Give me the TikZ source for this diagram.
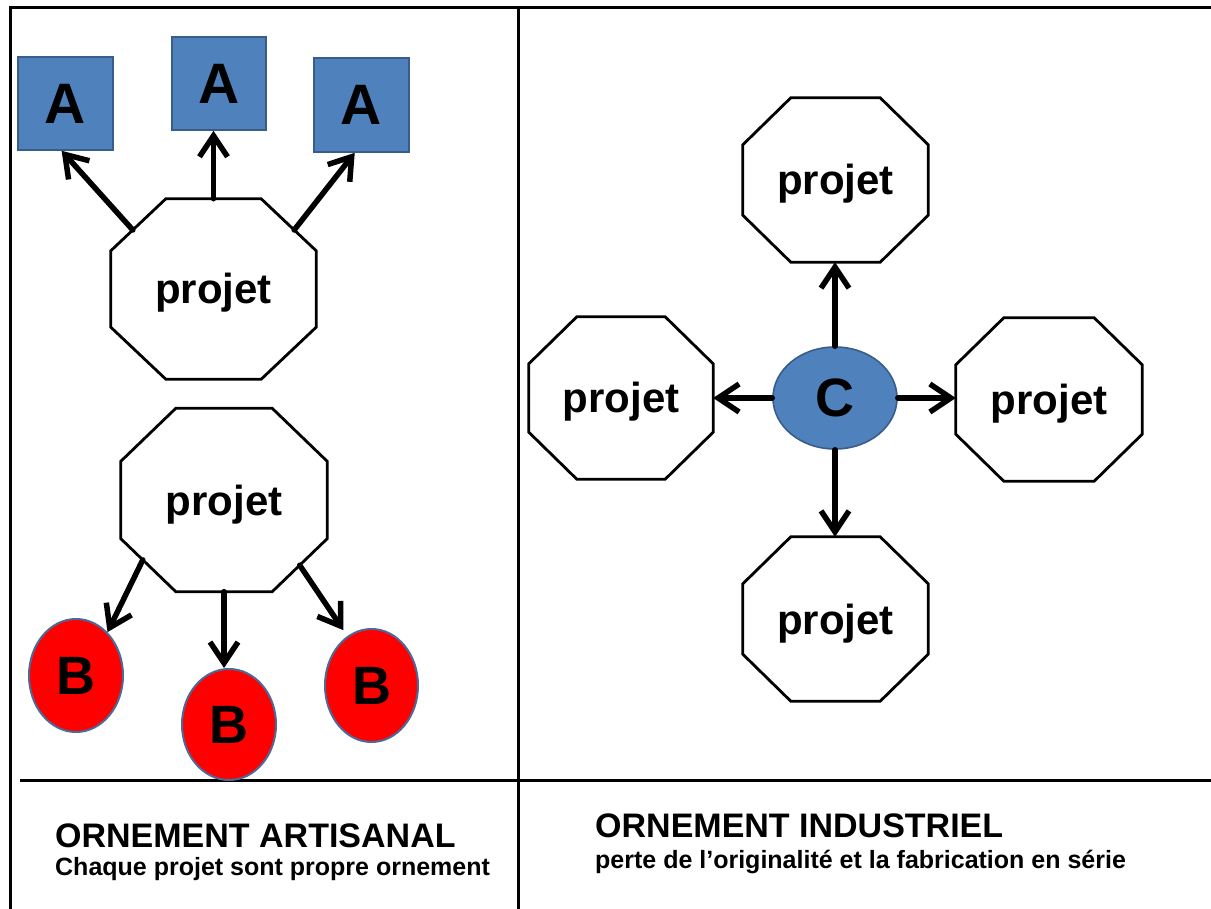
\documentclass[tikz,border=0pt]{standalone}
\usepackage{fontspec}
\setmainfont{Liberation Sans}
\usetikzlibrary{calc,arrows.meta,shapes.geometric}
\definecolor{boxblue}{HTML}{4F81BD}
\definecolor{boxedge}{HTML}{385D8A}
\definecolor{ballred}{HTML}{FF0000}
\definecolor{balledge}{HTML}{4A6A9A}
\tikzset{
  framestroke/.style={line width=3pt, black},
  octn/.style={rectangle, draw=none, inner sep=0pt, text height=40pt, text depth=10pt,
    font=\fontsize{42pt}{48pt}\selectfont\bfseries},
  octline/.style={line width=2.8pt, black, line join=miter},
  abox/.style={rectangle, fill=boxblue, draw=boxedge, line width=1.6pt, inner sep=0pt,
    font=\fontsize{57pt}{62pt}\selectfont\bfseries},
  bball/.style={ellipse, fill=ballred, draw=balledge, line width=2pt, inner sep=0pt,
    font=\fontsize{54pt}{60pt}\selectfont\bfseries},
  cball/.style={ellipse, fill=boxblue, draw=boxedge, line width=1.6pt, inner sep=0pt,
    font=\fontsize{54pt}{60pt}\selectfont\bfseries},
  arr/.style={line width=5.5pt, line cap=round, -{Straight Barb[length=21pt,width=28pt]}},
  titletxt/.style={anchor=base west, inner sep=0pt, font=\fontsize{#1}{#1}\selectfont\bfseries},
}
\newcommand\octagonnode[7]{%
  \node[octn, minimum width=#4pt, minimum height=#5pt] (#1) at (#2,#3) {projet};
  \coordinate (#1-1) at ($(#1.north west)+(#6,0)$);
  \coordinate (#1-2) at ($(#1.north east)+(-#6,0)$);
  \coordinate (#1-3) at ($(#1.north east)+(0,#7)$);
  \coordinate (#1-4) at ($(#1.south east)+(0,-#7)$);
  \coordinate (#1-5) at ($(#1.south east)+(-#6,0)$);
  \coordinate (#1-6) at ($(#1.south west)+(#6,0)$);
  \coordinate (#1-7) at ($(#1.south west)+(0,-#7)$);
  \coordinate (#1-8) at ($(#1.north west)+(0,#7)$);
  \draw[octline] (#1-1) -- (#1-2) -- (#1-3) -- (#1-4) -- (#1-5) -- (#1-6) -- (#1-7) -- (#1-8) -- cycle;
}
\begin{document}
\begin{tikzpicture}[x=1pt,y=-1pt]
\useasboundingbox (0,0) rectangle (1211,909);
\fill[white] (0,0) rectangle (1211,909);
% frame
\draw[framestroke] (10,909) -- (10,8) -- (1211,8);
\draw[framestroke] (518,8) -- (518,909);
\draw[framestroke] (20,780) -- (1211,780);

% left panel: artisanal
\octagonnode{o1}{213.5}{289}{205}{180}{55}{52}
\octagonnode{o2}{224}{500}{206}{183}{55}{53}
\node[abox, minimum width=95pt, minimum height=93pt] (a1) at (65.5,103.5) {A};
\node[abox, minimum width=94pt, minimum height=93pt] (a2) at (219,83.5) {A};
\node[abox, minimum width=95pt, minimum height=94pt] (a3) at (361.5,105) {A};
\node[bball, minimum width=94pt, minimum height=113pt] (b1) at (76,675.5) {B};
\node[bball, minimum width=94pt, minimum height=111pt] (b2) at (229,724.5) {B};
\node[bball, minimum width=93pt, minimum height=113pt] (b3) at (371.5,685.5) {B};

\draw[arr] ($(o1-8)!0.4!(o1-1)$) -- ($(a1.south west)!0.46!(a1.south east)$);
\draw[arr] (o1.north) -- (o1.north |- a2.south);
\draw[arr] ($(o1-2)!0.6!(o1-3)$) -- ($(a3.south west)!0.43!(a3.south east)$);
\draw[arr] ($(o2-7)!0.4!(o2-6)$) -- (b1.54.5);
\draw[arr] (o2.south) -- (o2.south |- b2.north);
\draw[arr, shorten >=7pt] ($(o2-5)!0.5!(o2-4)$) -- (b3.116);

% right panel: industriel
\octagonnode{p1}{835.5}{180}{185}{164}{48}{47}
\octagonnode{p2}{621}{398}{184}{162}{48}{47}
\octagonnode{p3}{1049}{399.5}{186}{163}{48}{47}
\octagonnode{p4}{835.5}{619}{185}{164}{48}{47}
\node[cball, minimum width=124pt, minimum height=102pt] (c) at (835,398) {C};
\draw[arr] (c.north) -- (c.north |- p1.south);
\draw[arr] (c.west) -- (c.west -| p2.east);
\draw[arr] (c.east) -- (c.east -| p3.west);
\draw[arr] (c.south) -- (c.south |- p4.north);

% captions
\node[titletxt=34pt] (t1) at (55,847) {ORNEMENT ARTISANAL};
\node[titletxt=25pt] (s1) at (55,875) {Chaque projet sont propre ornement};
\node[titletxt=34pt] (t2) at (595,837.5) {ORNEMENT INDUSTRIEL};
\node[titletxt=25pt] (s2) at (595,868) {perte de l’originalité et la fabrication en série};
\end{tikzpicture}
\end{document}
